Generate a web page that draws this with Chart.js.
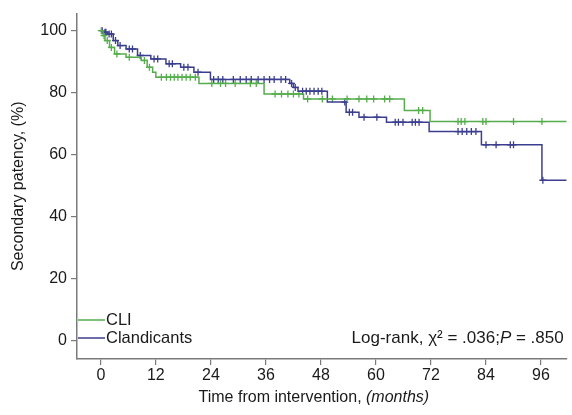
<!DOCTYPE html>
<html>
<head>
<meta charset="utf-8">
<script src="https://cdn.jsdelivr.net/npm/chart.js@4"></script>
<style>
  html, body { margin: 0; padding: 0; background: #fff; }
</style>
</head>
<body>
<canvas id="chart" width="572" height="415"></canvas>
<script>
// step points of the Kaplan-Meier curves (time in months, secondary patency in %)
const cliTime = [0, 0.5, 0.9, 1.9, 3, 5.5, 8.8, 10.1, 11.3, 12, 21.4, 35.6, 44.2, 66.2, 71.8, 101.6];
const cliSurv = [100, 98.4, 96.8, 94.6, 92.5, 91.4, 90.4, 88.2, 86.6, 85, 83, 79.6, 78, 74.3, 70.7, 70.7];
const cliCensTime = [0.1, 0.7, 1.4, 2.3, 3.5, 6.2, 9.5, 10.6,
    13.2, 14.3, 15.2, 16.0, 16.8, 17.7, 18.6, 19.5, 20.6,
    24.2, 26.1, 27.2, 29.3, 32.6, 33.9,
    38.0, 39.4, 40.8, 42.0, 43.2,
    45.1, 48.3, 50.5, 53.7, 56.3, 58.0, 59.5, 61.9, 63.0,
    69.3, 70.2,
    77.9, 78.6, 79.4, 83.3, 84.0, 90.0, 96.2];
const cliCensSurv = [100, 98.4, 96.8, 94.6, 92.5, 91.4, 90.4, 88.2,
    85, 85, 85, 85, 85, 85, 85, 85, 85,
    83, 83, 83, 83, 83, 83,
    79.6, 79.6, 79.6, 79.6, 79.6,
    78, 78, 78, 78, 78, 78, 78, 78, 78,
    74.3, 74.3,
    70.7, 70.7, 70.7, 70.7, 70.7, 70.7, 70.7];

const claTime = [0, 0.6, 1.4, 2.7, 3.7, 5.5, 8, 10.9, 14.2, 17.4, 20.3, 23.9, 41.2, 42, 43, 49.4, 53.5, 56.3, 62.3, 71.6, 83, 96.2, 101.6];
const claSurv = [100, 99.5, 98.9, 96.8, 95.2, 94.1, 92, 90.9, 89.3, 88.2, 86.6, 84.3, 83, 81.7, 80.5, 77, 73.7, 72.1, 70.5, 67.5, 63.2, 51.8, 51.8];
const claCensTime = [0.3, 0.9, 1.1, 1.8, 2.3, 3.2, 4.2, 6.2, 6.9, 8.6, 11.6, 12.4, 14.9, 15.6, 18.1, 19.0, 21.2,
    24.6, 25.6, 26.6, 28.9, 30.4, 31.7, 32.8, 34.3, 35.6, 36.8, 37.8, 39.3, 40.3,
    41.6, 42.4,
    44.0, 44.8, 45.6, 46.5, 47.4, 48.2,
    53.2, 54.2, 54.9, 57.4, 60.2,
    64.2, 64.9, 65.9, 67.9, 68.6, 69.4,
    77.9, 78.8, 79.8, 80.8, 81.8,
    84.0, 86.2, 89.3, 90.0, 96.4];
const claCensSurv = [100, 99.5, 99.5, 98.9, 98.9, 96.8, 95.2, 94.1, 94.1, 92, 90.9, 90.9, 89.3, 89.3, 88.2, 88.2, 86.6,
    84.3, 84.3, 84.3, 84.3, 84.3, 84.3, 84.3, 84.3, 84.3, 84.3, 84.3, 84.3, 84.3,
    83, 81.7,
    80.5, 80.5, 80.5, 80.5, 80.5, 80.5,
    77, 73.7, 73.7, 72.1, 72.1,
    70.5, 70.5, 70.5, 70.5, 70.5, 70.5,
    67.5, 67.5, 67.5, 67.5, 67.5,
    63.2, 63.2, 63.2, 63.2, 51.8];

const xTicks = [0, 12, 24, 36, 48, 60, 72, 84, 96];
const yTicks = [0, 20, 40, 60, 80, 100];
const seriesNames = ['CLI', 'Clandicants'];

const green = '#55ad4c';
const navy = '#3b3e8e';
const axisGray = '#7a7a7a';
const font = '"Liberation Sans", Arial, sans-serif';

function pts(xs, ys) {
    return xs.map((x, i) => ({ x: x, y: ys[i] }));
}

function drawParts(ctx, parts, x, y, align) {
    const widths = parts.map(p => { ctx.font = p[1]; return ctx.measureText(p[0]).width; });
    const total = widths.reduce((a, b) => a + b, 0);
    let cx = align === 'right' ? x - total : align === 'center' ? x - total / 2 : x;
    ctx.textAlign = 'left';
    parts.forEach((p, i) => {
        ctx.font = p[1];
        ctx.fillText(p[0], cx, y);
        cx += widths[i];
    });
}

const textPlugin = {
    id: 'texts',
    afterDraw(chart) {
        const { ctx, chartArea: a } = chart;
        const reg = '16px ' + font;
        const ita = 'italic 16px ' + font;
        const noteReg = '17px ' + font;
        const noteIta = 'italic 17px ' + font;
        ctx.save();
        ctx.fillStyle = '#1a1a1a';
        ctx.textBaseline = 'middle';

        // legend inside the plot, bottom left
        [green, navy].forEach((c, i) => {
            const y = a.bottom - 39 + i * 18;
            ctx.strokeStyle = c;
            ctx.lineWidth = 1.5;
            ctx.beginPath();
            ctx.moveTo(a.left + 1, y);
            ctx.lineTo(a.left + 28, y);
            ctx.stroke();
            ctx.font = '16.5px ' + font;
            ctx.textAlign = 'left';
            ctx.fillText(seriesNames[i], a.left + 29, y);
        });

        // log-rank note
        drawParts(ctx, [['Log-rank, \u03C7\u00B2 = .036;', noteReg], ['P', noteIta], [' = .850', noteReg]],
            a.right - 3, a.bottom - 21, 'right');

        // x axis title
        drawParts(ctx, [['Time from intervention, ', reg], ['(months)', ita]],
            (a.left + a.right) / 2 - 8, a.bottom + 39, 'center');
        ctx.restore();
    }
};

new Chart(document.getElementById('chart'), {
    type: 'line',
    data: {
        datasets: [
            {
                label: seriesNames[1], data: pts(claTime, claSurv), stepped: true,
                borderColor: navy, borderWidth: 1.5, pointRadius: 0, fill: false, order: 2
            },
            {
                label: seriesNames[0], data: pts(cliTime, cliSurv), stepped: true,
                borderColor: green, borderWidth: 1.5, pointRadius: 0, fill: false, order: 1
            },
            {
                label: 'cla censored', data: pts(claCensTime, claCensSurv), showLine: false,
                pointStyle: 'cross', pointRadius: 3.5, borderColor: navy, borderWidth: 1.3, order: 4
            },
            {
                label: 'cli censored', data: pts(cliCensTime, cliCensSurv), showLine: false,
                pointStyle: 'cross', pointRadius: 3.5, borderColor: green, borderWidth: 1.3, order: 3
            }
        ]
    },
    options: {
        responsive: false,
        animation: false,
        events: [],
        layout: { padding: { top: 13, right: 0, bottom: 0, left: 0 } },
        plugins: { legend: { display: false }, tooltip: { enabled: false } },
        scales: {
            x: {
                type: 'linear',
                min: -5.2,
                max: 101.6,
                afterBuildTicks: s => { s.ticks = xTicks.map(v => ({ value: v })); },
                afterFit: s => { s.height = 56; },
                grid: { drawOnChartArea: false, drawTicks: true, tickLength: 6, color: axisGray, lineWidth: 1.2 },
                border: { color: axisGray, width: 1.5 },
                ticks: { font: { family: font, size: 16 }, color: '#1a1a1a', padding: 1, maxRotation: 0 }
            },
            y: {
                min: -5.8,
                max: 105.5,
                afterBuildTicks: s => { s.ticks = yTicks.map(v => ({ value: v })); },
                afterFit: s => { s.width = 77; },
                grid: { drawOnChartArea: false, drawTicks: true, tickLength: 6, color: axisGray, lineWidth: 1.2 },
                border: { color: axisGray, width: 1.5 },
                ticks: { font: { family: font, size: 16 }, color: '#1a1a1a', padding: 4 },
                title: {
                    display: true, text: 'Secondary patency, (%)',
                    font: { family: font, size: 16 }, color: '#1a1a1a', padding: { top: 9, bottom: 0 }
                }
            }
        }
    },
    plugins: [textPlugin]
});
</script>
</body>
</html>
